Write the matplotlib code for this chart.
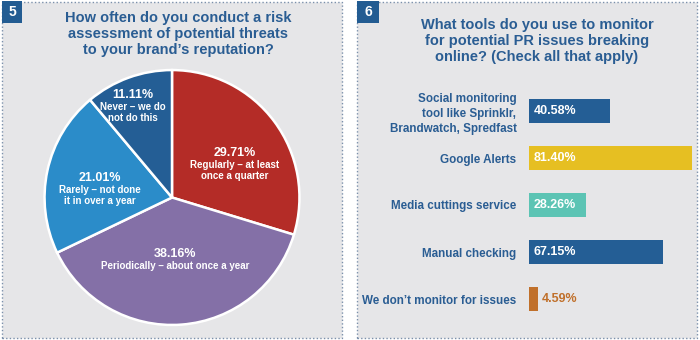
import matplotlib
matplotlib.use('Agg')
import matplotlib.pyplot as plt
from matplotlib import font_manager
from matplotlib.patches import Rectangle
import numpy as np

# data: pie (chart 5)
pie_pcts = [29.71, 38.16, 21.01, 11.11]
pie_labels = ['Regularly \u2013 at least\nonce a quarter',
              'Periodically \u2013 about once a year',
              'Rarely \u2013 not done\nit in over a year',
              'Never \u2013 we do\nnot do this']

# data: bars (chart 6)
bar_cats = ['Social monitoring\ntool like Sprinklr,\nBrandwatch, Spredfast',
            'Google Alerts',
            'Media cuttings service',
            'Manual checking',
            "We don\u2019t monitor for issues"]
bar_vals = [40.58, 81.40, 28.26, 67.15, 4.59]

title5 = 'How often do you conduct a risk\nassessment of potential threats\nto your brand\u2019s reputation?'
title6 = 'What tools do you use to monitor\nfor potential PR issues breaking\nonline? (Check all that apply)'

# colours
panel_bg = '#e6e6e8'
dots = '#7b90ab'
blue_txt = '#2a5d93'
badge = '#235c92'
pie_colors = ['#b42c27', '#8470a7', '#2b8cc9', '#245e95']
bar_colors = ['#245e95', '#e6bf22', '#5cc4b4', '#245e95', '#c0702b']

names = {f.name for f in font_manager.fontManager.ttflist}
narrow = 'Liberation Sans Narrow' if 'Liberation Sans Narrow' in names else 'Liberation Sans'
wide = 'Liberation Sans'

W, H = 700, 340


def box(x0, y0, x1, y1):
    # pixel box (top-left origin) -> figure fraction rect
    return [x0 / W, 1 - y1 / H, (x1 - x0) / W, (y1 - y0) / H]


fig = plt.figure(figsize=(7, 3.4), dpi=100)
fig.patch.set_facecolor('white')

# panel backgrounds with dotted borders (behind the axes)
for x0, x1 in [(2, 342), (357, 697)]:
    r = box(x0, 2, x1, 338)
    fig.patches.append(Rectangle((r[0], r[1]), r[2], r[3], transform=fig.transFigure,
                                 facecolor=panel_bg, edgecolor=dots, lw=1.0,
                                 linestyle=(0, (1, 1.6)), zorder=-2))

# number badges
for (x0, x1), num in [((2, 22), '5'), ((357, 379), '6')]:
    r = box(x0, 1, x1, 23)
    fig.patches.append(Rectangle((r[0], r[1]), r[2], r[3], transform=fig.transFigure,
                                 facecolor=badge, edgecolor='none', zorder=-1))
    fig.text(r[0] + r[2] / 2, r[1] + r[3] / 2, num, color='white', fontsize=10,
             fontweight='bold', family=wide, ha='center', va='center')

# titles
fig.text(178 / W, 1 - 34 / H, title5, color=blue_txt, fontsize=10.5, fontweight='bold',
         family=wide, ha='center', va='center', linespacing=1.22)
fig.text(537 / W, 1 - 41 / H, title6, color=blue_txt, fontsize=10.5, fontweight='bold',
         family=wide, ha='center', va='center', linespacing=1.22)

# ---- pie ----
ax1 = fig.add_axes(box(42, 67.5, 302, 327.5))
wedges, _ = ax1.pie(pie_pcts, colors=pie_colors, startangle=90, counterclock=False,
                    radius=1.0, wedgeprops=dict(edgecolor='white', linewidth=1.8))
ax1.set_xlim(-1.02, 1.02)
ax1.set_ylim(-1.02, 1.02)
ax1.set_aspect('equal')
ax1.axis('off')

# label placement: radius and angle shift from the wedge middle
label_r = [0.574, 0.494, 0.578, 0.814]
label_shift = [-5.0, -1.7, 2.3, 2.2]
for w, pct, lab, rr, sh in zip(wedges, pie_pcts, pie_labels, label_r, label_shift):
    ang = np.deg2rad((w.theta1 + w.theta2) / 2 + sh)
    x, y = rr * np.cos(ang), rr * np.sin(ang)
    ax1.text(x, y + 0.005, f'{pct:.2f}%', color='white', fontsize=9, fontweight='bold',
             family=wide, ha='center', va='bottom')
    ax1.text(x, y - 0.005, lab, color='white', fontsize=7, fontweight='bold',
             family=narrow, ha='center', va='top', linespacing=1.1)

# ---- bars ----
ax2 = fig.add_axes(box(529, 87.5, 697, 322.5))
ypos = np.arange(len(bar_vals))
ax2.barh(ypos, bar_vals, height=0.49, color=bar_colors)
ax2.set_xlim(0, 84)
ax2.set_ylim(len(bar_vals) - 0.5, -0.5)
ax2.set_yticks(ypos)
ax2.set_yticklabels(bar_cats, color=blue_txt, fontsize=8.4, fontweight='bold',
                    family=narrow, linespacing=1.3)
ax2.tick_params(axis='y', length=0, pad=9)
ax2.set_xticks([])
for s in ax2.spines.values():
    s.set_visible(False)
ax2.patch.set_visible(False)

for yy, v, c in zip(ypos, bar_vals, bar_colors):
    if v > 10:
        ax2.text(2.5, yy, f'{v:.2f}%', color='white', fontsize=9, fontweight='bold',
                 family=wide, va='center', ha='left')
    else:
        ax2.text(v + 2, yy, f'{v:.2f}%', color=c, fontsize=9, fontweight='bold',
                 family=wide, va='center', ha='left')

fig.savefig('out.png', dpi=100)
